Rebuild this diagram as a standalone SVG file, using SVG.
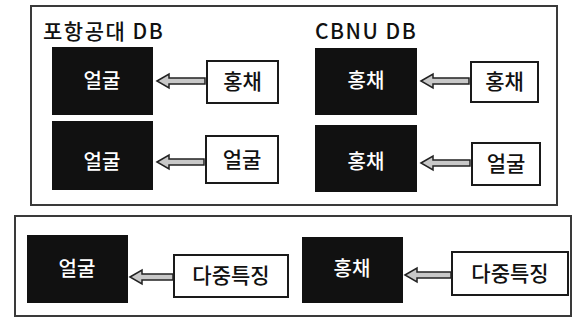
<svg xmlns="http://www.w3.org/2000/svg" width="574" height="320" viewBox="0 0 574 320">
<style>
.frame{fill:none;stroke:#3a3a3a;stroke-width:2}
.dark{fill:#111}
.lite{fill:#fff;stroke:#1a1a1a;stroke-width:2}
.wt{fill:#fff;font-family:"Noto Sans CJK KR","Noto Sans",sans-serif;font-size:20px;font-weight:500;text-anchor:middle}
.bt{fill:#111;font-family:"Noto Sans CJK KR","Noto Sans",sans-serif;font-size:21px;font-weight:500;text-anchor:middle}
.title{fill:#111;font-family:"Noto Sans CJK KR","Liberation Sans",sans-serif;font-size:21px;font-weight:500;letter-spacing:1.5px}
.arr{fill:#c8c8c8;stroke:#222;stroke-width:1.5;stroke-linejoin:miter}
</style>
<rect width="574" height="320" fill="#fff"/>
<g id="frame-top"><rect class="frame" x="31" y="6" width="526" height="199"/></g>
<g id="frame-bottom"><rect class="frame" x="15" y="216" width="556" height="100"/></g>
<g id="title-postech"><text class="title" x="43" y="39">포항공대 DB</text></g>
<g id="title-cbnu"><text class="title" x="315" y="39">CBNU DB</text></g>

<g id="n1"><rect class="dark" x="52" y="47" width="101" height="68"/><text class="wt" x="102" y="88">얼굴</text></g>
<g id="n2"><rect class="lite" x="207" y="61" width="71" height="42"/><text class="bt" x="242.5" y="89">홍채</text></g>
<g id="n3"><rect class="dark" x="52" y="121" width="101" height="69"/><text class="wt" x="102" y="169">얼굴</text></g>
<g id="n4"><rect class="lite" x="206" y="136" width="72" height="47"/><text class="bt" x="242" y="167">얼굴</text></g>

<g id="n5"><rect class="dark" x="315" y="48" width="102" height="67"/><text class="wt" x="366" y="88">홍채</text></g>
<g id="n6"><rect class="lite" x="471" y="62" width="67" height="40"/><text class="bt" x="504.5" y="89">홍채</text></g>
<g id="n7"><rect class="dark" x="315" y="125" width="102" height="67"/><text class="wt" x="366" y="169">홍채</text></g>
<g id="n8"><rect class="lite" x="472" y="143" width="68" height="42"/><text class="bt" x="506" y="171">얼굴</text></g>

<g id="n9"><rect class="dark" x="27" y="235" width="101" height="68"/><text class="wt" x="77" y="276">얼굴</text></g>
<g id="n10"><rect class="lite" x="174" y="255" width="114" height="42"/><text class="bt" x="231" y="283">다중특징</text></g>
<g id="n11"><rect class="dark" x="302" y="237" width="101" height="66"/><text class="wt" x="352" y="276">홍채</text></g>
<g id="n12"><rect class="lite" x="452" y="252" width="116" height="43"/><text class="bt" x="510" y="281">다중특징</text></g>

<g id="connectors">
<path class="arr" d="M157 81 L169 74 L169 78 L205 78 L205 84 L169 84 L169 88 Z"/>
<path class="arr" d="M157 162 L169 155 L169 159 L204 159 L204 165 L169 165 L169 169 Z"/>
<path class="arr" d="M421 81 L433 74 L433 78 L469 78 L469 84 L433 84 L433 88 Z"/>
<path class="arr" d="M421 163 L433 156 L433 160 L470 160 L470 166 L433 166 L433 170 Z"/>
<path class="arr" d="M130 277 L142 270 L142 274 L173 274 L173 280 L142 280 L142 284 Z"/>
<path class="arr" d="M405 275 L417 268 L417 272 L451 272 L451 278 L417 278 L417 282 Z"/>
</g>
</svg>
